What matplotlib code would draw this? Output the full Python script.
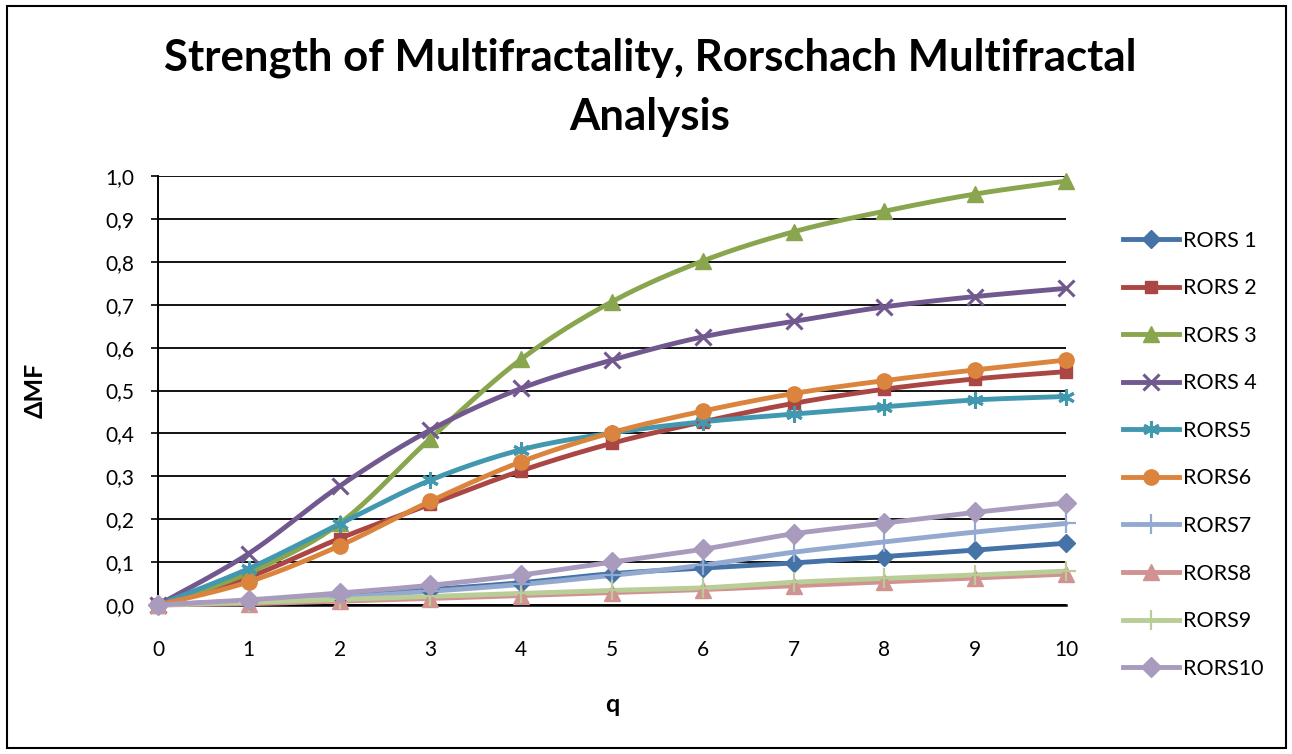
import numpy as np
import matplotlib
matplotlib.use("Agg")
import matplotlib.pyplot as plt
from matplotlib.lines import Line2D
from matplotlib.patches import Rectangle

q = [0, 1, 2, 3, 4, 5, 6, 7, 8, 9, 10]

rors1 = [0.0, 0.010, 0.022, 0.036, 0.052, 0.073, 0.086, 0.098, 0.113, 0.128, 0.144]
rors2 = [0.0, 0.065, 0.155, 0.235, 0.313, 0.377, 0.427, 0.470, 0.503, 0.527, 0.544]
rors3 = [0.0, 0.075, 0.190, 0.388, 0.573, 0.707, 0.802, 0.870, 0.918, 0.958, 0.988]
rors4 = [0.0, 0.120, 0.277, 0.408, 0.505, 0.571, 0.625, 0.661, 0.695, 0.719, 0.738]
rors5 = [0.0, 0.085, 0.189, 0.291, 0.362, 0.401, 0.427, 0.445, 0.462, 0.478, 0.486]
rors6 = [0.0, 0.054, 0.138, 0.242, 0.334, 0.402, 0.452, 0.493, 0.523, 0.548, 0.571]
rors7 = [0.0, 0.008, 0.018, 0.032, 0.048, 0.069, 0.093, 0.123, 0.147, 0.170, 0.190]
rors8 = [0.0, 0.003, 0.009, 0.015, 0.022, 0.029, 0.036, 0.045, 0.054, 0.063, 0.072]
rors9 = [0.0, 0.006, 0.013, 0.020, 0.027, 0.034, 0.040, 0.053, 0.062, 0.070, 0.079]
rors10 = [0.0, 0.012, 0.028, 0.046, 0.070, 0.100, 0.130, 0.166, 0.191, 0.216, 0.238]

names = ["RORS 1", "RORS 2", "RORS 3", "RORS 4", "RORS5",
         "RORS6", "RORS7", "RORS8", "RORS9", "RORS10"]
series = [rors1, rors2, rors3, rors4, rors5, rors6, rors7, rors8, rors9, rors10]
colors = ["#4572A7", "#AA4643", "#89A54E", "#71588F", "#4198AF",
          "#DB843D", "#93A9CF", "#D19392", "#B9CD96", "#A99BBD"]
markers = ["D", "s", "^", "x", (6, 2, 0), "o", "+", "^", "+", "D"]
msizes = [9, 9, 11, 11, 12, 11, 14, 11, 14, 10]
mews = [1, 1, 1, 2.2, 2.2, 1, 1.6, 1, 1.6, 1]

y_ticks = [0.0, 0.1, 0.2, 0.3, 0.4, 0.5, 0.6, 0.7, 0.8, 0.9, 1.0]
y_labels = ["0,0", "0,1", "0,2", "0,3", "0,4", "0,5", "0,6", "0,7", "0,8", "0,9", "1,0"]


def smooth(x, y, n=20):
    """Bezier curve through the points (Excel-style smoothed line)."""
    x = np.asarray(x, float)
    y = np.asarray(y, float)
    px = np.concatenate([[x[0]], x, [x[-1]]])
    py = np.concatenate([[y[0]], y, [y[-1]]])
    xs, ys = [], []
    t = np.linspace(0, 1, n, endpoint=False)
    for i in range(1, len(px) - 2):
        p0, p1, p2, p3 = (np.array([px[j], py[j]]) for j in (i - 1, i, i + 1, i + 2))
        c1 = p1 + (p2 - p0) / 6.0
        c2 = p2 - (p3 - p1) / 6.0
        for tt in t:
            b = ((1 - tt) ** 3) * p1 + 3 * ((1 - tt) ** 2) * tt * c1 \
                + 3 * (1 - tt) * tt ** 2 * c2 + tt ** 3 * p2
            xs.append(b[0])
            ys.append(b[1])
    xs.append(x[-1])
    ys.append(y[-1])
    return np.array(xs), np.array(ys)


plt.rcParams["font.family"] = ["Lato", "DejaVu Sans"]

fig = plt.figure(figsize=(12.92, 7.54), dpi=100)
ax = fig.add_axes([158 / 1292, 1 - 605 / 754, (1066 - 158) / 1292, (605 - 176) / 754])

for vals, col, mk, ms, mew in zip(series, colors, markers, msizes, mews):
    sx, sy = smooth(q, vals)
    ax.plot(sx, sy, color=col, lw=3.5, solid_capstyle="round", zorder=3, clip_on=False)
    ax.plot(q, vals, ls="none", marker=mk, ms=ms, color=col, mec=col, mew=mew,
            zorder=4, clip_on=False)

ax.set_xlim(0, 10)
ax.set_ylim(0, 1.0)
ax.set_xticks(q)
ax.set_xticklabels([str(v) for v in q], fontsize=15)
ax.set_yticks(y_ticks)
ax.set_yticklabels(y_labels, fontsize=15)
ax.tick_params(axis="x", length=0, pad=25)
ax.tick_params(axis="y", length=5, width=1.2, direction="out", pad=12)
ax.grid(axis="y", color="black", lw=1.3, zorder=1)
for side in ["top", "right"]:
    ax.spines[side].set_visible(False)
ax.spines["left"].set_linewidth(1.4)
ax.spines["bottom"].set_linewidth(1.8)

ax.set_xlabel("q", fontsize=18, fontweight="bold", labelpad=24)
ax.set_ylabel("\u0394MF", fontsize=18, fontweight="bold", labelpad=42)

fig.text(650 / 1292, 1 - 58 / 754, "Strength of Multifractality, Rorschach Multifractal",
         ha="center", va="center", fontsize=31.5, fontweight="bold")
fig.text(650 / 1292, 1 - 117 / 754, "Analysis",
         ha="center", va="center", fontsize=31.5, fontweight="bold")

handles = [Line2D([0], [0], color=c, lw=3.5, marker=m, ms=s, mec=c, mew=w)
           for c, m, s, w in zip(colors, markers, msizes, mews)]
fig.legend(handles, names, loc="upper left", bbox_to_anchor=(1114 / 1292, 1 - 222 / 754),
           frameon=False, fontsize=15.5, handlelength=2.6, handletextpad=0.2,
           labelspacing=1.28, borderaxespad=0)

fig.add_artist(Rectangle((7 / 1292, 6 / 754), 1279 / 1292, 742 / 754,
                         transform=fig.transFigure, fill=False, ec="black", lw=1.5))

fig.savefig("out.png", dpi=100)
